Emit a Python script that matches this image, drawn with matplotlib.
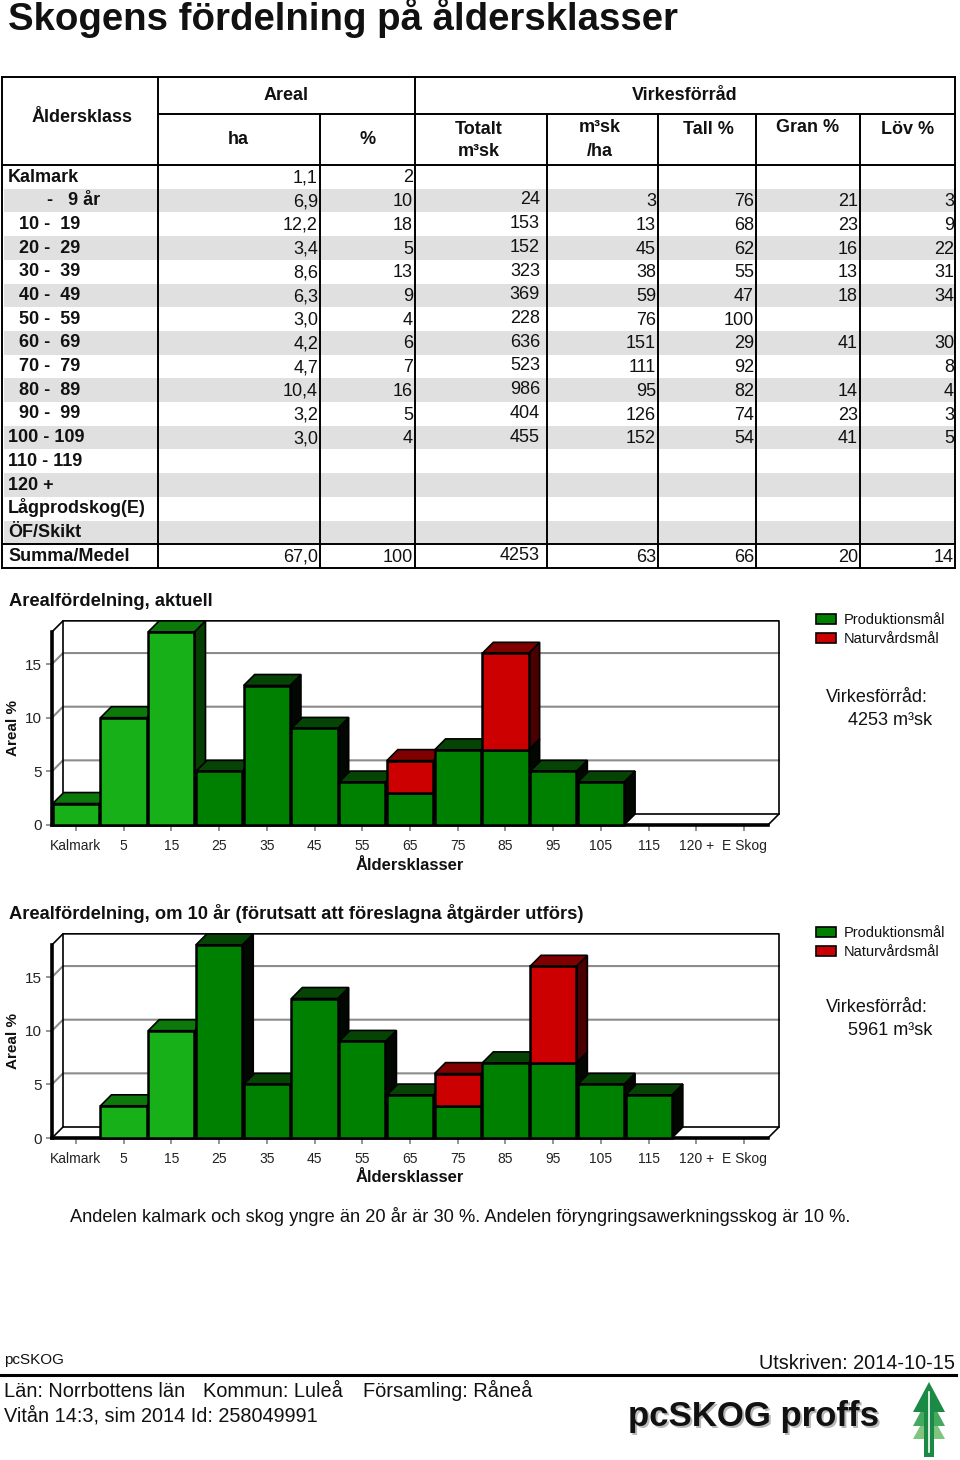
#!/usr/bin/env python3

import matplotlib
matplotlib.use("Agg")
from matplotlib import pyplot as plt
from matplotlib.patches import Polygon, Rectangle
import numpy as np

plt.rcParams['font.family'] = ['Liberation Sans', 'DejaVu Sans']

row_labels = ["Kalmark", "-   9 år", "10 -  19", "20 -  29", "30 -  39", "40 -  49", "50 -  59",
              "60 -  69", "70 -  79", "80 -  89", "90 -  99", "100 - 109", "110 - 119", "120 +",
              "Lågprodskog(E)", "ÖF/Skikt", "Summa/Medel"]
label_x = [8, 47, 19, 19, 19, 19, 19, 19, 19, 19, 19, 8, 8, 8, 8, 8, 8]
ha = ["1,1", "6,9", "12,2", "3,4", "8,6", "6,3", "3,0", "4,2", "4,7", "10,4", "3,2", "3,0", "", "", "", "", "67,0"]
pct = ["2", "10", "18", "5", "13", "9", "4", "6", "7", "16", "5", "4", "", "", "", "", "100"]
total = ["", "24", "153", "152", "323", "369", "228", "636", "523", "986", "404", "455", "", "", "", "", "4253"]
per_ha = ["", "3", "13", "45", "38", "59", "76", "151", "111", "95", "126", "152", "", "", "", "", "63"]
tall = ["", "76", "68", "62", "55", "47", "100", "29", "92", "82", "74", "54", "", "", "", "", "66"]
gran = ["", "21", "23", "16", "13", "18", "", "41", "", "14", "23", "41", "", "", "", "", "20"]
lov = ["", "3", "9", "22", "31", "34", "", "30", "8", "4", "3", "5", "", "", "", "", "14"]

age_ticks = ["Kalmark", "5", "15", "25", "35", "45", "55", "65", "75", "85", "95", "105", "115", "120 +", "E Skog"]
prod_now = [2, 10, 18, 5, 13, 9, 4, 3, 7, 7, 5, 4, 0, 0, 0]
nat_now = [0, 0, 0, 0, 0, 0, 0, 3, 0, 9, 0, 0, 0, 0, 0]
prod_10 = [0, 3, 10, 18, 5, 13, 9, 4, 3, 7, 7, 5, 4, 0, 0]
nat_10 = [0, 0, 0, 0, 0, 0, 0, 0, 3, 0, 9, 0, 0, 0, 0]

W, H = 960, 1460
fig = plt.figure(figsize=(W / 100, H / 100), dpi=100)
bg = fig.add_axes([0, 0, 1, 1])
bg.set_xlim(0, W)
bg.set_ylim(H, 0)
bg.axis('off')

TXT = '#111111'
bg.text(8, 30, "Skogens fördelning på åldersklasser", fontsize=27.6, fontweight='bold', color=TXT, va='baseline')

#### table
row_top = 165
row_h = 23.7
for i in range(1, 16, 2):
    bg.add_patch(Rectangle((4, row_top + i * row_h), 951, row_h, color='#e0e0e0', lw=0, zorder=1))

bottom = row_top + 17 * row_h
lw = 1.4
for y, x0 in [(77, 2), (114, 160), (row_top, 2), (row_top + 16 * row_h, 2), (bottom, 2)]:
    bg.plot([x0, 955], [y, y], color='k', lw=lw, zorder=2)
for x in [2, 158, 415, 955]:
    bg.plot([x, x], [77, bottom], color='k', lw=lw, zorder=2)
for x in [320, 547, 658, 756, 860]:
    bg.plot([x, x], [114, bottom], color='k', lw=lw, zorder=2)

header = [(82, 117, "Åldersklass"), (286, 95, "Areal"), (685, 95, "Virkesförråd"), (238, 139, "ha"), (368, 139, "%"),
          (479, 129, "Totalt"), (479, 152, "m³sk"), (600, 128, "m³sk"), (600, 151, "/ha"),
          (708, 129, "Tall %"), (808, 127, "Gran %"), (908, 129, "Löv %")]
for x, y, s in header:
    bg.text(x, y, s, fontsize=13, fontweight='bold', color=TXT, ha='center', va='center', zorder=3)

for i, s in enumerate(row_labels):
    bg.text(label_x[i], row_top + i * row_h + 16.5, s, fontsize=13, fontweight='bold', color=TXT, va='baseline', zorder=3)

cols = [(318, 17.5, ha), (413, 17.5, pct), (540, 15.8, total), (656, 17.5, per_ha), (754, 17.5, tall),
        (858, 17.5, gran), (954, 17.5, lov)]
for x, off, vals in cols:
    for i, s in enumerate(vals):
        bg.text(x, row_top + i * row_h + off, s, fontsize=13, color=TXT, ha='right', va='baseline', zorder=3)

#### charts
DEPTH = 11
PX_PCT = 10.73
PX_CLASS = 716 / 15

LIGHT = ('#18b018', '#0b7a0b', '#063d03')
DARK = ('#008000', '#054405', '#020702')
RED = ('#cc0000', '#800000', '#4a0000')


def draw_chart(y0, prod, nat, light, title, stock, stock_y):
    left, right, top = 52, 768, y0 - 18 * PX_PCT
    ax = fig.add_axes([left / W, 1 - y0 / H, (right - left) / W, (y0 - top) / H])
    ax.set_xlim(0, 15)
    ax.set_ylim(0, 18)
    ax.patch.set_visible(False)
    for s in ax.spines.values():
        s.set_visible(False)
    dx = DEPTH / PX_CLASS
    dy = DEPTH / PX_PCT

    # walls and grid
    kw = dict(clip_on=False, zorder=1)
    for v in [5, 10, 15]:
        ax.plot([0, dx, 15 + dx], [v, v + dy, v + dy], color='#8c8c8c', lw=1.5, **kw)
    ax.plot([0, dx, 15 + dx, 15 + dx, 15], [18, 18 + dy, 18 + dy, dy, 0], color='k', lw=1.2, **kw)
    ax.plot([dx, dx, 15 + dx], [18 + dy, dy, dy], color='k', lw=1.2, **kw)
    ax.plot([0, dx], [0, dy], color='k', lw=1.2, **kw)
    ax.plot([0, 0], [0, 18], color='k', lw=2.6, clip_on=False, zorder=5)
    ax.plot([0, 15], [0, 0], color='k', lw=2.6, clip_on=False, zorder=2)

    # bars, painted left to right so each one covers the side of the previous
    x = np.arange(15)
    z = 10
    for i in x:
        base = 0
        for val, cols in ((prod[i], LIGHT if i in light else DARK), (nat[i], RED)):
            if val == 0:
                continue
            h0, h1 = base, base + val
            a, b = i + 0.015, i + 0.985
            ax.add_patch(Polygon([(b, h0), (b + dx, h0 + dy), (b + dx, h1 + dy), (b, h1)], fc=cols[2], ec='k', lw=1.2,
                                 zorder=z, clip_on=False))
            ax.add_patch(Polygon([(a, h1), (a + dx, h1 + dy), (b + dx, h1 + dy), (b, h1)], fc=cols[1], ec='k', lw=1.2,
                                 zorder=z, clip_on=False))
            ax.bar(i + 0.5, val, 0.97, bottom=base, color=cols[0], edgecolor='k', lw=1.8, zorder=z, clip_on=False)
            base = h1
        z += 1

    ax.set_xticks(x + 0.5)
    ax.set_xticklabels(age_ticks, fontsize=10, color='#222222')
    ax.set_yticks([0, 5, 10, 15])
    ax.set_yticklabels(['0', '5', '10', '15'], fontsize=11, color='#222222')
    ax.tick_params(axis='both', color='#8c8c8c', length=4, width=1.3, pad=3)
    ax.tick_params(axis='x', pad=6)

    bg.text(9, y0 - 219, title, fontsize=13.25, fontweight='bold', color=TXT, va='baseline')
    bg.text(13, y0 - 97, "Areal %", fontsize=11, fontweight='bold', color=TXT, rotation=90, ha='center', va='center')
    bg.text(410, y0 + 40, "Åldersklasser", fontsize=12, fontweight='bold', color=TXT, ha='center', va='center')

    for ly, c, s in ((y0 - 206, DARK[0], "Produktionsmål"), (y0 - 187, RED[0], "Naturvårdsmål")):
        bg.add_patch(Rectangle((816, ly - 5), 20, 10, fc=c, ec='k', lw=1.2))
        bg.text(844, ly + 5, s, fontsize=10.5, color=TXT, va='baseline')
    bg.text(826, stock_y, "Virkesförråd:", fontsize=13, color=TXT, va='baseline')
    bg.text(848, stock_y + 23, stock, fontsize=13, color=TXT, va='baseline')


draw_chart(825, prod_now, nat_now, (0, 1, 2), "Arealfördelning, aktuell", "4253 m³sk", 702)
draw_chart(1138, prod_10, nat_10, (1, 2), "Arealfördelning, om 10 år (förutsatt att föreslagna åtgärder utförs)",
           "5961 m³sk", 1012)

bg.text(70, 1222, "Andelen kalmark och skog yngre än 20 år är 30 %. Andelen föryngringsawerkningsskog är 10 %.",
        fontsize=13.15, color=TXT, va='baseline')

#### footer
bg.text(4, 1364, "pcSKOG", fontsize=11, color=TXT, va='baseline')
bg.text(955, 1369, "Utskriven: 2014-10-15", fontsize=14.3, color=TXT, ha='right', va='baseline')
bg.plot([0, 956], [1374.5, 1374.5], color='k', lw=2.2)
bg.text(4, 1397, "Län: Norrbottens län", fontsize=14.4, color=TXT, va='baseline')
bg.text(203, 1397, "Kommun: Luleå", fontsize=14.4, color=TXT, va='baseline')
bg.text(363, 1397, "Församling: Råneå", fontsize=14.4, color=TXT, va='baseline')
bg.text(4, 1421, "Vitån 14:3, sim 2014 Id: 258049991", fontsize=14.3, color=TXT, va='baseline')

bg.text(630, 1428, "pcSKOG proffs", fontsize=25, fontweight='bold', color='#b8b8b8', va='baseline')
bg.text(628, 1426, "pcSKOG proffs", fontsize=25, fontweight='bold', color='#111111', va='baseline')

# logo tree
bg.add_patch(Polygon([(929, 1382), (945, 1412), (913, 1412)], fc='#1a8a45', lw=0, zorder=3))
bg.add_patch(Polygon([(929, 1396), (945, 1426), (913, 1426)], fc='#45a85f', lw=0, zorder=2))
bg.add_patch(Polygon([(929, 1410), (945, 1439), (913, 1439)], fc='#7fc47f', lw=0, zorder=1))
bg.add_patch(Rectangle((924, 1400), 10, 57, fc='#1a8a45', lw=0, zorder=4))
bg.plot([929, 929], [1392, 1452], color='white', lw=1.2, zorder=5)

fig.savefig("out.png", dpi=100)
